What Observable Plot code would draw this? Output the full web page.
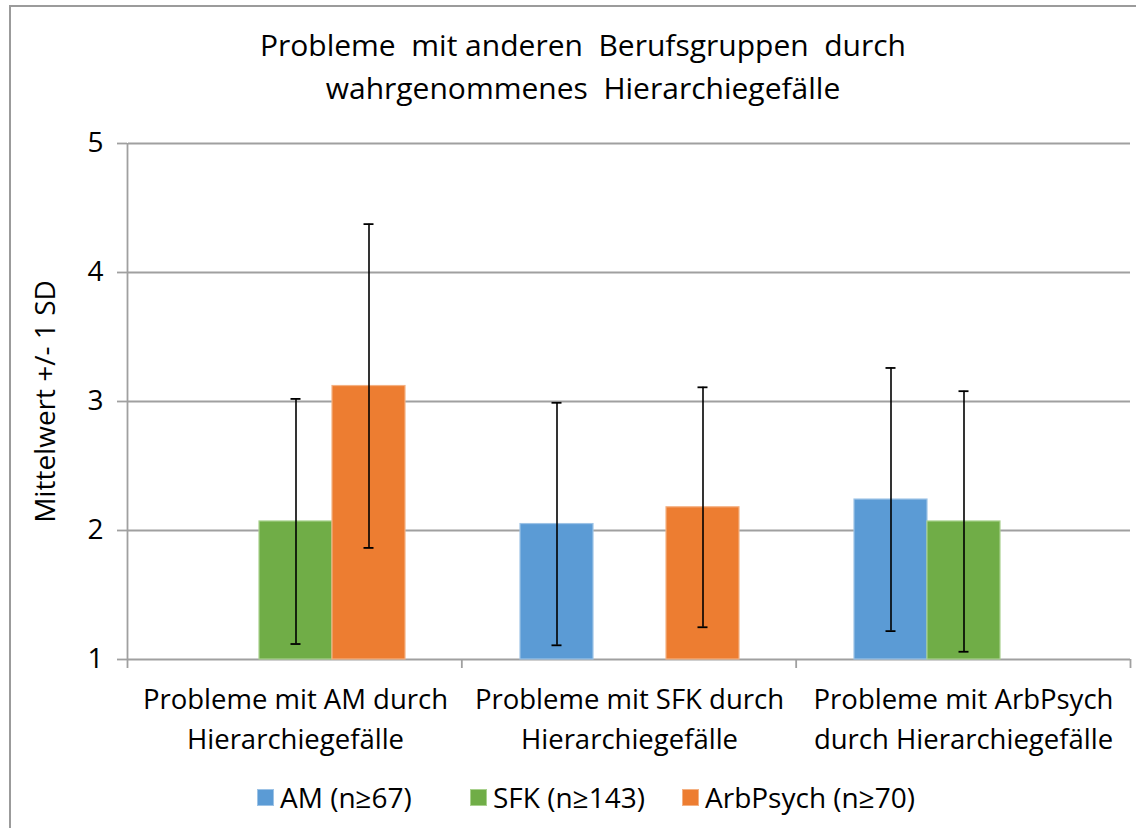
<!DOCTYPE html>
<html>
<head>
<meta charset="utf-8">
<script src="https://cdn.jsdelivr.net/npm/d3@7"></script>
<script src="https://cdn.jsdelivr.net/npm/@observablehq/plot@0.6"></script>
<style>
  body { margin: 0; background: white; }
  #chart { position: relative; width: 1136px; height: 828px; overflow: hidden; background: white; font-family: "Open Sans", "Noto Sans", sans-serif; color: #000; }
  #border { position: absolute; left: 9px; top: 5px; width: 1300px; height: 1000px; border-top: 2px solid #9b9b9b; border-left: 2px solid #9b9b9b; }
  #title { position: absolute; left: 0; width: 1166px; top: 23px; text-align: center; font-size: 30px; line-height: 43px; white-space: pre; }
  .layer { position: absolute; left: 0; top: 110px; }
  .layer svg text { fill: #000; }
  .legend-item { position: absolute; top: 780px; height: 34px; display: flex; align-items: center; font-size: 28px; white-space: pre; }
  .legend-swatch { width: 17px; height: 17px; margin-right: 6px; }
</style>
</head>
<body>
<div id="chart">
  <div id="border"></div>
  <div id="title"></div>
  <div id="main" class="layer"></div>
  <div id="over" class="layer"></div>
  <div id="legend"></div>
</div>
<script>
// ---- data ----
const titleLines = ["Probleme  mit anderen  Berufsgruppen  durch", "wahrgenommenes  Hierarchiegefälle"];
const yLabel = "Mittelwert +/- 1 SD";
const categories = ["Probleme mit AM durch Hierarchiegefälle", "Probleme mit SFK durch Hierarchiegefälle", "Probleme mit ArbPsych durch Hierarchiegefälle"];
const categoryLines = [["Probleme mit AM durch", "Hierarchiegefälle"], ["Probleme mit SFK durch", "Hierarchiegefälle"], ["Probleme mit ArbPsych", "durch Hierarchiegefälle"]];
const series = ["AM", "SFK", "ArbPsych"];
const seriesLabels = ["AM (n≥67)", "SFK (n≥143)", "ArbPsych (n≥70)"];
const seriesColors = ["#5B9BD5", "#70AD47", "#ED7D31"];
const seriesEdge = ["#9dc3e6", "#a9d18e", "#f4b183"];
const meanAM = [null, 2.05, 2.24];
const sdAM = [null, 0.94, 1.02];
const meanSFK = [2.07, null, 2.07];
const sdSFK = [0.95, null, 1.01];
const meanArbPsych = [3.12, 2.18, null];
const sdArbPsych = [1.255, 0.93, null];
const yTicks = [1, 2, 3, 4, 5];
const categoryBounds = [0, 1, 2, 3];

// ---- table ----
const means = [meanAM, meanSFK, meanArbPsych];
const sds = [sdAM, sdSFK, sdArbPsych];
const rows = [];
categories.forEach((c, ci) => {
  series.forEach((s, si) => {
    const m = means[si][ci];
    if (m != null) rows.push({cat: c, series: s, mean: m, lo: m - sds[si][ci], hi: m + sds[si][ci]});
  });
});

const W = 1136, H = 660, ML = 127, MR = 6, MT = 33, MB = 111;
const font = '"Open Sans", "Noto Sans", sans-serif';

document.getElementById("title").textContent = titleLines.join("\n");

const main = Plot.plot({
  width: W, height: H, marginLeft: ML, marginRight: MR, marginTop: MT, marginBottom: MB,
  style: {fontFamily: font, fontSize: "27.5px", color: "#000", background: "transparent", overflow: "visible"},
  fx: {domain: categories, padding: 0, label: null},
  x: {domain: series, paddingInner: 0, paddingOuter: 0.757, axis: null},
  y: {domain: [1, 5], axis: null},
  color: {domain: series, range: seriesColors},
  marks: [
    Plot.ruleY(yTicks, {stroke: "#a0a0a0", strokeWidth: 1.8}),
    Plot.barY(rows, {fx: "cat", x: "series", y1: 1, y2: "mean", fill: "series", stroke: d => seriesEdge[series.indexOf(d.series)], strokeWidth: 1.2}),
    Plot.ruleX(rows, {fx: "cat", x: "series", y1: "lo", y2: "hi", stroke: "#000", strokeWidth: 1.6}),
    Plot.tickY(rows, {fx: "cat", x: "series", y: "lo", stroke: "#000", strokeWidth: 1.8, insetLeft: 31.5, insetRight: 31.5}),
    Plot.tickY(rows, {fx: "cat", x: "series", y: "hi", stroke: "#000", strokeWidth: 1.8, insetLeft: 31.5, insetRight: 31.5}),
    Plot.axisFx({anchor: "bottom", tickSize: 0, tickPadding: 21, label: null, lineHeight: 1.46, fontSize: 27.5,
      tickFormat: c => categoryLines[categories.indexOf(c)].join("\n")})
  ]
});
document.getElementById("main").appendChild(main);

const over = Plot.plot({
  width: W, height: H, marginLeft: ML, marginRight: MR, marginTop: MT, marginBottom: MB,
  style: {fontFamily: font, fontSize: "27px", color: "#000", background: "transparent", overflow: "visible"},
  x: {domain: [0, 3], axis: null},
  y: {domain: [1, 5], axis: null},
  marks: [
    Plot.ruleX([0], {y1: 1, y2: 5, stroke: "#a0a0a0", strokeWidth: 1.8}),
    Plot.axisX({ticks: categoryBounds, tickSize: 9, tickFormat: () => "", stroke: "#a0a0a0", strokeWidth: 1.8, label: null}),
    Plot.axisY({ticks: yTicks, tickSize: 10, tickPadding: 14, stroke: "#a0a0a0", strokeWidth: 1.8, fontSize: 28,
      tickFormat: d => String(d),
      label: yLabel, labelAnchor: "center", labelOffset: 92, labelArrow: "none"})
  ]
});
document.getElementById("over").appendChild(over);

const legendX = [257, 470, 682];
const legend = document.getElementById("legend");
seriesLabels.forEach((lab, i) => {
  const item = document.createElement("div");
  item.className = "legend-item";
  item.style.left = legendX[i] + "px";
  const sw = document.createElement("div");
  sw.className = "legend-swatch";
  sw.style.background = seriesColors[i];
  sw.style.boxShadow = "inset 0 0 0 1px " + seriesEdge[i];
  const tx = document.createElement("span");
  tx.textContent = lab;
  item.appendChild(sw);
  item.appendChild(tx);
  legend.appendChild(item);
});
</script>
</body>
</html>
